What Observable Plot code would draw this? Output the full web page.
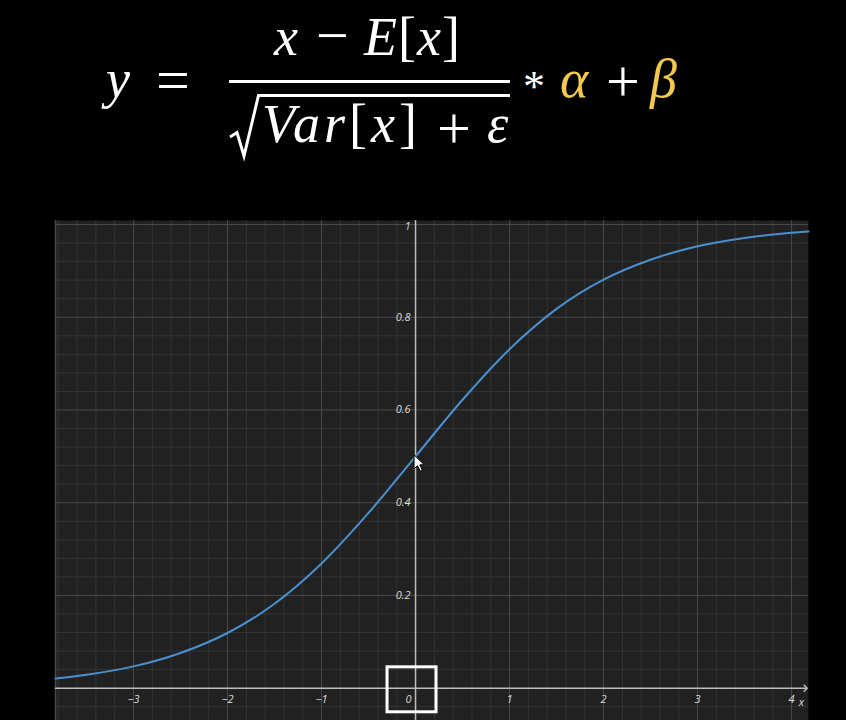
<!DOCTYPE html>
<html>
<head>
<meta charset="utf-8">
<script src="https://cdn.jsdelivr.net/npm/d3@7"></script>
<script src="https://cdn.jsdelivr.net/npm/@observablehq/plot@0.6"></script>
<style>
  html, body { margin: 0; padding: 0; background: #000; }
  #wrap { width: 846px; height: 720px; overflow: hidden; background: #000; }
  #formula { display: block; }
  #chart svg { display: block; }
</style>
</head>
<body>
<div id="wrap">
  <svg id="formula" width="846" height="220" xmlns="http://www.w3.org/2000/svg">
    <g font-family="Liberation Serif, DejaVu Serif, serif" fill="#ffffff" font-size="54">
      <text x="106" y="97" font-style="italic">y</text>
      <text x="156" y="100" font-size="60">=</text>
      <!-- numerator -->
      <text x="274" y="55" font-style="italic">x</text>
      <text x="316" y="55" font-size="58">−</text>
      <text x="364" y="55" textLength="96" lengthAdjust="spacing"><tspan font-style="italic">E</tspan>[<tspan font-style="italic">x</tspan>]</text>
      <rect x="229" y="80" width="281" height="3"></rect>
      <path d="M230,137 L237,132.5 L244,156 L258.5,95.5 L510,95.5" fill="none" stroke="#ffffff" stroke-width="3" stroke-linejoin="miter"></path>
      <!-- denominator -->
      <text x="262" y="142" textLength="155" lengthAdjust="spacing"><tspan font-style="italic">Var</tspan>[<tspan font-style="italic">x</tspan>]</text>
      <text x="437" y="148" font-size="60">+</text>
      <text x="487" y="142" font-style="italic">ε</text>
      <!-- tail -->
      <text x="523" y="101" font-size="44">*</text>
      <text x="560" y="97" font-style="italic" fill="#f2c94c">α</text>
      <text x="606" y="101" font-size="60">+</text>
      <text x="650" y="97" font-style="italic" fill="#f2c94c">β</text>
    </g>
  </svg>
  <div id="chart"></div>
</div>
<script>
// ---- data ----
const curveX = [-3.83, -3.5, -3, -2.5, -2, -1.5, -1, -0.5, 0, 0.5, 1, 1.5, 2, 2.5, 3, 3.5, 4, 4.18];
const curveY = [0.021, 0.029, 0.047, 0.076, 0.119, 0.182, 0.269, 0.378, 0.5, 0.622, 0.731, 0.818, 0.881, 0.924, 0.953, 0.971, 0.982, 0.985];
const xTicks = [-3, -2, -1, 0, 1, 2, 3, 4];
const xTickLabels = ["−3", "−2", "−1", "0", "1", "2", "3", "4"];
const yTicks = [0.2, 0.4, 0.6, 0.8, 1];
const yTickLabels = ["0.2", "0.4", "0.6", "0.8", "1"];
const xDomain = [-3.83, 4.18];
const yDomain = [-0.0697, 1.0086];
const highlightBox = [{x1: -0.298, x2: 0.223, y1: -0.052, y2: 0.045}];
const cursorAt = [{x: 0, y: 0.5}];

const points = curveX.map((x, i) => ({x, y: curveY[i]}));
const xGrid = d3.range(-19, 21).map(i => ({v: i / 5, major: i % 5 === 0}));
const yGrid = d3.range(-1, 26).map(i => ({v: i / 25, major: i % 5 === 0}));
const xLabelData = xTicks.map((v, i) => ({v, label: xTickLabels[i]}));
const yLabelData = yTicks.map((v, i) => ({v, label: yTickLabels[i]}));

const labelColor = "#dcdcdc";
const labelFont = "Open Sans, DejaVu Sans, sans-serif";

const cursorMark = (index, scales) => {
  const ns = "http://www.w3.org/2000/svg";
  const g = document.createElementNS(ns, "g");
  const px = scales.x(cursorAt[0].x), py = scales.y(cursorAt[0].y);
  g.setAttribute("transform", `translate(${px - 1},${py - 1})`);
  const p = document.createElementNS(ns, "path");
  p.setAttribute("d", "M0,0 L0,14 L3.5,10.8 L6.2,16.5 L8.3,15.5 L5.8,10 L10.2,10 Z");
  p.setAttribute("fill", "#ffffff");
  p.setAttribute("stroke", "#000000");
  p.setAttribute("stroke-width", "1");
  p.setAttribute("stroke-linejoin", "round");
  g.appendChild(p);
  return g;
};

const chart = Plot.plot({
  width: 846,
  height: 500,
  marginLeft: 55,
  marginRight: 38,
  marginTop: 0,
  marginBottom: 0,
  style: {background: "#000000", fontFamily: labelFont},
  x: {domain: xDomain, axis: null},
  y: {domain: yDomain, axis: null},
  marks: [
    Plot.frame({fill: "#212121", stroke: null}),
    Plot.ruleX(xGrid.filter(d => !d.major), {x: "v", stroke: "#343434", strokeWidth: 1}),
    Plot.ruleY(yGrid.filter(d => !d.major), {y: "v", stroke: "#343434", strokeWidth: 1}),
    Plot.ruleX(xGrid.filter(d => d.major && d.v !== 0), {x: "v", stroke: "#4a4a4a", strokeWidth: 1}),
    Plot.ruleY(yGrid.filter(d => d.major && d.v !== 0), {y: "v", stroke: "#4a4a4a", strokeWidth: 1}),
    Plot.ruleX([xDomain[0]], {stroke: "#4a4a4a", strokeWidth: 1.5}),
    Plot.ruleX([0], {stroke: "#bdbdbd", strokeWidth: 1.5}),
    Plot.line([{x: xDomain[0], y: 0}, {x: xDomain[1] - 0.03, y: 0}], {x: "x", y: "y", stroke: "#bdbdbd", strokeWidth: 1.5, markerEnd: "arrow"}),
    Plot.line(points, {x: "x", y: "y", stroke: "#4a90d0", strokeWidth: 2, curve: "monotone-x"}),
    Plot.text(xLabelData.filter(d => d.v !== 0), {x: "v", y: 0, dy: 11, text: "label", fill: labelColor, fontSize: 11, fontStyle: "italic"}),
    Plot.text(xLabelData.filter(d => d.v === 0), {x: "v", y: 0, dy: 11, dx: -7, text: "label", fill: labelColor, fontSize: 11, fontStyle: "italic"}),
    Plot.text(yLabelData.filter(d => d.v !== 1), {x: 0, y: "v", dx: -5, text: "label", textAnchor: "end", fill: labelColor, fontSize: 11, fontStyle: "italic"}),
    Plot.text(yLabelData.filter(d => d.v === 1), {x: 0, y: "v", dx: -5, dy: 2, text: "label", textAnchor: "end", fill: labelColor, fontSize: 10, fontStyle: "italic"}),
    Plot.text(["x"], {x: xDomain[1], y: 0, dx: -7, dy: 14, text: d => d, fill: labelColor, fontSize: 11, fontStyle: "italic"}),
    Plot.rect(highlightBox, {x1: "x1", x2: "x2", y1: "y1", y2: "y2", fill: "none", stroke: "#ffffff", strokeWidth: 3}),
    cursorMark
  ]
});
document.getElementById("chart").appendChild(chart);
</script>
</body>
</html>
